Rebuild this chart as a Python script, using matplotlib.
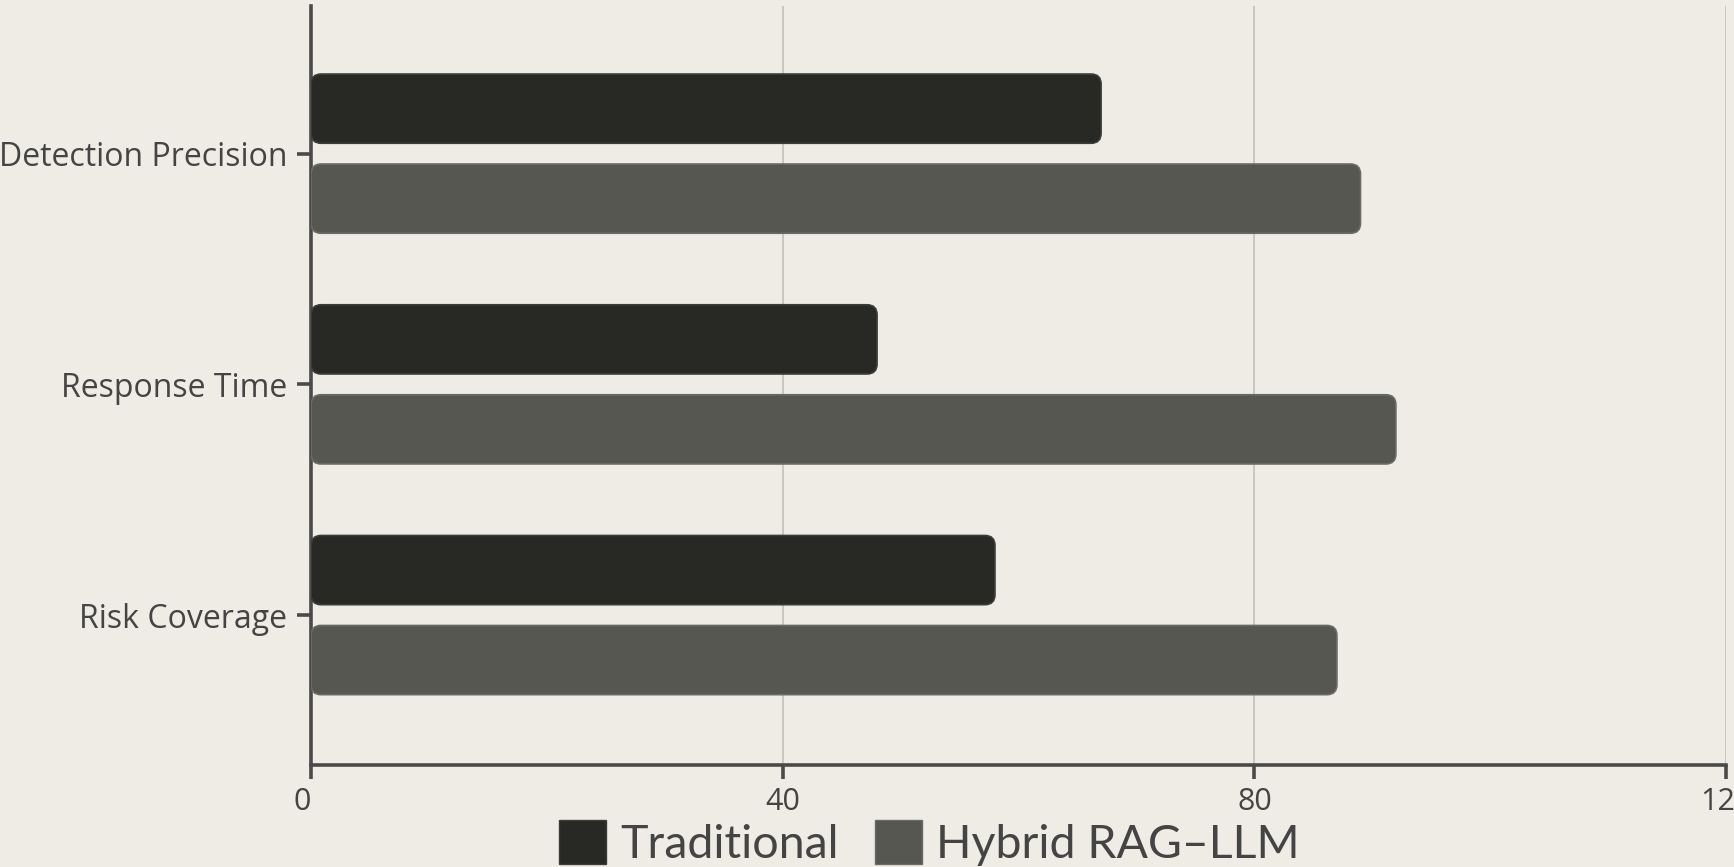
import matplotlib
matplotlib.use('Agg')
import matplotlib.pyplot as plt
import matplotlib.transforms as mtransforms
from matplotlib.patches import FancyBboxPatch, Patch
import numpy as np

# scores per metric
categories = ['Detection Precision', 'Response Time', 'Risk Coverage']
traditional = [67, 48, 58]
hybrid = [89, 92, 87]
series_names = ['Traditional', 'Hybrid RAG\u2013LLM']
xticks = [0, 40, 80, 120]

bg = '#efece5'
c_trad = '#282924'
c_hyb = '#565750'
axis_col = '#4a4a4a'

fig = plt.figure(figsize=(17.34, 8.67), dpi=100, facecolor=bg)
ax = fig.add_axes([0.1794, 0.1176, 0.816, 0.8755], facecolor=bg)

y = np.arange(len(categories))
h = 0.30
off = 0.195
b1 = ax.barh(y - off, traditional, height=h, color=c_trad, zorder=3)
b2 = ax.barh(y + off, hybrid, height=h, color=c_hyb, zorder=3)

# swap the plain rectangles for rounded ones
def round_bars(bars, face, edge):
    for r in bars:
        x0, y0 = r.get_x(), r.get_y()
        w, hh = r.get_width(), r.get_height()
        r.remove()
        p = FancyBboxPatch((x0, y0), w, hh,
                           boxstyle='round,pad=0,rounding_size=0.85',
                           mutation_aspect=0.051,
                           facecolor=face, edgecolor=edge, linewidth=1.2,
                           zorder=3)
        ax.add_patch(p)

round_bars(b1, c_trad, '#3c3d38')
round_bars(b2, c_hyb, '#6a6b64')

ax.set_xlim(0, 120)
ax.set_ylim(2.65, -0.64)
ax.set_xticks(xticks)
ax.set_xticklabels([str(t) for t in xticks])
ax.set_yticks(y)
ax.set_yticklabels(categories)

ax.grid(axis='x', color='#c9c6c0', linewidth=1.4, zorder=0)
ax.set_axisbelow(True)

for s in ['top', 'right']:
    ax.spines[s].set_visible(False)
for s in ['left', 'bottom']:
    ax.spines[s].set_color(axis_col)
    ax.spines[s].set_linewidth(2.6)

ax.tick_params(axis='both', colors=axis_col, width=2.6, length=10,
               labelcolor='#444444')
ax.tick_params(axis='y', pad=7)
ax.tick_params(axis='x', pad=6)
for lab in ax.get_xticklabels():
    lab.set_fontfamily('Open Sans')
    lab.set_fontsize(22)
for lab in ax.get_yticklabels():
    lab.set_fontfamily('Open Sans')
    lab.set_fontsize(23)

# nudge the "0" label off the y spine
zero = ax.get_xticklabels()[0]
zero.set_transform(zero.get_transform() +
                   mtransforms.ScaledTranslation(-9 / 100, 0, fig.dpi_scale_trans))

handles = [Patch(facecolor=c_trad, edgecolor='#3c3d38'),
           Patch(facecolor=c_hyb, edgecolor='#6a6b64')]
leg = fig.legend(handles, series_names, loc='center', bbox_to_anchor=(0.536, 0.028),
                 ncol=2, frameon=False, prop={'family': 'Lato', 'size': 33.5},
                 handlelength=1.0, handleheight=1.1, handletextpad=0.3,
                 columnspacing=0.8, borderpad=0)
for t in leg.get_texts():
    t.set_color('#444444')

fig.savefig('out.png', dpi=100, facecolor=bg)
